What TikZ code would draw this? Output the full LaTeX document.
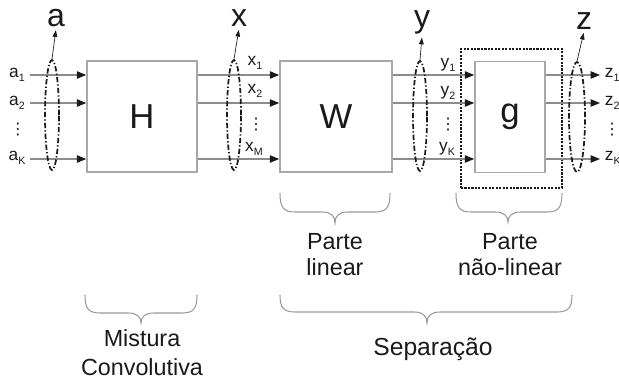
\documentclass[tikz,border=0pt]{standalone}
\usepackage{fontspec}
\setmainfont{Liberation Sans}
\newfontfamily\lbdejavu{DejaVu Sans}
\usetikzlibrary{arrows.meta,shapes.geometric}
\definecolor{linegray}{HTML}{8C8C8C}
\definecolor{boxgray}{HTML}{A8A8A8}
\definecolor{bracegray}{HTML}{9A9A9A}
\definecolor{ink}{HTML}{1A1A1A}
\newcommand{\lbsub}[1]{\raisebox{-0.45ex}{\fontsize{8}{8}\selectfont #1}}
\newcommand{\cbrace}[6]{%
 \draw[bracestyle] (#1,#4) .. controls (#1,#5-5) and (#1+3,#5) .. (#1+15,#5) -- (#3-13,#5)
   .. controls (#3-4,#5) and (#3,#5+4) .. (#3,#6)
   .. controls (#3,#5+4) and (#3+4,#5) .. (#3+13,#5) -- (#2-15,#5)
   .. controls (#2-3,#5) and (#2,#5-5) .. (#2,#4);}
\begin{document}
\begin{tikzpicture}[x=0.75pt,y=-0.75pt,
  box/.style={draw=boxgray,line width=1.1pt,fill=white,inner sep=0,text=ink,
    font=\fontsize{26}{28}\selectfont},
  sig/.style={draw=linegray,line width=0.8pt,-{Triangle[length=7pt,width=5.5pt,color=ink]}},
  grp/.style={ellipse,draw=ink,line width=1.3pt,dash pattern=on 4pt off 1.6pt on 1pt off 1.6pt,
    minimum width=10.5pt,minimum height=82.5pt,inner sep=0},
  ptr/.style={draw=ink,line width=0.5pt,-{Triangle[length=5pt,width=3.5pt]},shorten >=1pt},
  big/.style={text=ink,inner sep=1pt,font=\fontsize{24}{26}\selectfont},
  sl/.style={text=ink,inner sep=0.5pt,font=\fontsize{13}{14}\selectfont},
  dts/.style={text=ink,inner sep=0pt,font=\lbdejavu\fontsize{12}{12}\selectfont},
  captxt/.style={text=ink,inner sep=0pt,anchor=base,font=\fontsize{17.5}{19}\selectfont},
  bracestyle/.style={draw=bracegray,line width=0.8pt}]
\useasboundingbox (0,0) rectangle (619,385);

% dotted frame of the non-linear part
\node[draw=ink,line width=1.6pt,densely dotted,minimum width=75.75pt,minimum height=104.25pt,inner sep=0] (nl) at (511.5,118.5) {};

% blocks
\node[box,minimum width=82.5pt,minimum height=83.25pt] (H) at (142,116.5) {H};
\node[box,minimum width=84pt,minimum height=83.25pt] (W) at (336,116.5) {W};
\node[box,minimum width=52.5pt,minimum height=83.25pt] (g) at (510,117) {g};

% row coordinates
\coordinate (r1) at (30,75);
\coordinate (r2) at (30,103);
\coordinate (r3) at (30,159);
\coordinate (ze1) at (600,75);
\coordinate (ze2) at (600,103);
\coordinate (ze3) at (600,159);

% signals
\foreach \r in {1,2,3}{
  \draw[sig] (r\r) -- (r\r -| H.west);
  \draw[sig] (H.east |- r\r) -- (W.west |- r\r);
  \draw[sig] (W.east |- r\r) -- (g.west |- r\r);
  \draw[sig] (g.east |- r\r) -- (ze\r);
}

% input labels
\node[sl] (a1) at (17,75) {a\lbsub{1}};
\node[sl] (a2) at (17,103) {a\lbsub{2}};
\node[dts] (ad) at (18,130) {⋮};
\node[sl] (aK) at (17,158) {a\lbsub{K}};
% x labels
\node[sl] (x1) at (255,63) {x\lbsub{1}};
\node[sl] (x2) at (255,91) {x\lbsub{2}};
\node[dts] (xd) at (256,125) {⋮};
\node[sl] (xM) at (254,149) {x\lbsub{M}};
% y labels
\node[sl] (y1) at (448,65) {y\lbsub{1}};
\node[sl] (y2) at (448,93) {y\lbsub{2}};
\node[dts] (yd) at (448,125) {⋮};
\node[sl] (yK) at (447,149) {y\lbsub{K}};
% z labels
\node[sl,anchor=west] (z1) at (604,75) {z\lbsub{1}};
\node[sl,anchor=west] (z2) at (604,103) {z\lbsub{2}};
\node[dts] (zd) at (612,130) {⋮};
\node[sl,anchor=west] (zK) at (604,158) {z\lbsub{K}};

% grouping ellipses
\node[grp] (ea) at (52,115) {};
\node[grp] (ex) at (234,115) {};
\node[grp] (ey) at (420,116) {};
\node[grp,minimum width=12pt] (ez) at (577,117) {};

% vector labels
\node[big,anchor=base] (la) at (56,27) {a};
\node[big,anchor=base] (lx) at (239,27) {x};
\node[big,anchor=base] (ly) at (422,28) {y};
\node[big,anchor=base] (lz) at (584,30) {z};
\draw[ptr] (ea.north) -- (la.south);
\draw[ptr] (ex.north) -- (lx.south);
\draw[ptr] (ey.north) -- (ly.south);
\draw[ptr] (ez.north) -- (lz.south);

% braces
\cbrace{280}{390}{335}{193}{212}{223}
\cbrace{456}{562}{508}{193}{212}{222}
\cbrace{85}{197}{141}{295}{313}{323}
\cbrace{280}{572}{427}{295}{312}{323}

% captions
\node[captxt] (p1) at (335,250) {Parte};
\node[captxt] (p2) at (335,276) {linear};
\node[captxt] (n1) at (510,250) {Parte};
\node[captxt] (n2) at (510,276) {não-linear};
\node[captxt] (m1) at (142,346) {Mistura};
\node[captxt] (m2) at (142,375) {Convolutiva};
\node[captxt,font=\fontsize{18.5}{20}\selectfont] (s1) at (433,356) {Separação};
\end{tikzpicture}
\end{document}
